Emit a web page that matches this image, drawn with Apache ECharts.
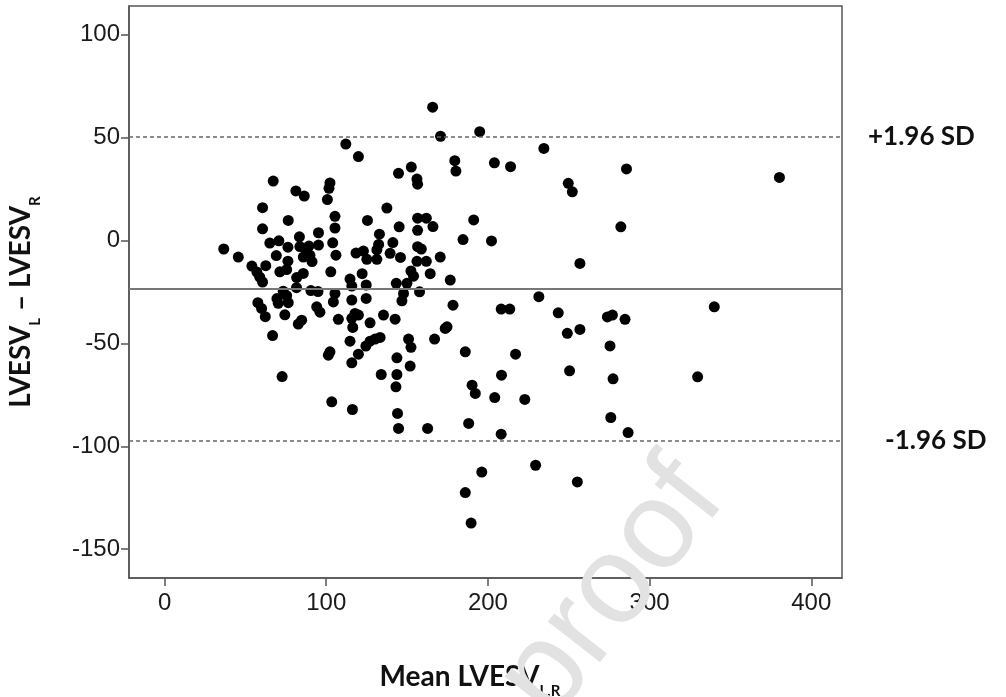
<!DOCTYPE html>
<html><head><meta charset="utf-8">
<script src="https://cdn.jsdelivr.net/npm/echarts@6/dist/echarts.min.js"></script>
<style>html,body{margin:0;padding:0;background:#fff}#c{width:1006px;height:697px}</style>
</head><body><div id="c"></div>
<script>
// Mean LVESV (x) and difference LVESV_L - LVESV_R (y)
const meanX = [
36.6,45.6,54.0,57.1,58.9,62.6,60.6,67.2,60.6,76.5,60.6,83.4,65.1,70.7,76.3,69.1,76.3,71.3,75.5,81.7,
85.8,81.6,73.4,75.5,69.5,70.3,76.5,57.7,60.0,62.3,74.4,82.7,84.8,66.8,72.7,81.2,86.4,95.2,83.7,89.3,
95.2,85.8,89.9,91.2,87.9,90.5,94.9,94.1,96.1,
100.7,102.3,101.7,105.4,105.4,104.0,106.0,102.8,112.1,119.9,125.5,137.5,144.7,152.6,156.1,156.5,156.5,161.9,166.0,145.1,
132.9,156.5,141.2,132.4,131.3,156.5,158.8,118.4,123.0,139.5,170.5,125.1,131.3,145.9,156.1,161.9,165.8,170.7,179.5,180.2,
184.6,114.7,115.8,122.2,124.7,143.3,152.4,154.0,149.9,164.3,176.7,105.4,104.4,115.8,124.7,147.8,146.8,157.7,178.4,107.5,
117.8,119.9,115.8,116.4,127.1,135.4,142.6,173.6,174.7,167.0,150.9,152.4,114.7,133.3,130.2,127.1,124.5,119.9,115.8,101.3,
102.3,143.7,151.9,134.0,143.7,143.1,186.0,103.4,116.2,144.1,144.7,162.7,188.1,
194.9,234.6,204.0,214.0,285.7,249.7,252.2,191.2,282.2,202.2,256.9,208.2,213.5,231.5,243.5,273.9,277.0,284.8,249.1,256.9,
275.5,217.1,208.4,250.5,277.4,190.2,192.2,204.2,222.8,276.0,208.2,286.7,229.5,196.2,255.3,186.0,189.6,380.3,340.0,329.7
];
const diffY = [
-4.1,-8.0,-12.4,-15.3,-17.8,-12.2,-20.2,28.9,16.0,9.8,5.7,1.8,-1.2,-0.1,-3.2,-7.3,-10.0,-15.2,-14.1,-18.0,
-16.0,-22.9,-24.6,-26.8,-28.2,-30.5,-30.2,-30.2,-33.0,-37.0,-36.1,-40.6,-38.7,-46.2,-66.1,24.1,21.6,3.8,-2.9,-2.7,
-2.2,-8.0,-7.1,-10.2,-5.1,-24.3,-24.8,-32.2,-34.8,
19.9,28.0,25.4,11.8,6.1,-1.1,-7.1,-15.2,46.9,40.8,9.8,15.8,32.7,35.7,29.9,27.4,10.9,10.9,6.8,6.7,
3.1,5.0,-1.0,-1.9,-4.5,-3.0,-4.1,-6.1,-5.1,-6.2,-8.0,-9.1,-9.1,-8.2,-10.1,-10.1,64.8,50.7,38.8,33.8,
0.5,-18.7,-22.1,-16.1,-21.6,-20.8,-14.8,-17.3,-20.8,-16.1,-19.2,-25.7,-29.8,-28.9,-28.1,-25.7,-29.3,-24.9,-31.4,-38.3,
-35.4,-36.2,-37.8,-42.2,-40.0,-36.2,-38.2,-42.7,-41.9,-47.9,-47.9,-51.9,-48.9,-47.1,-47.9,-48.9,-51.3,-55.2,-59.4,-55.7,
-54.1,-57.0,-61.0,-65.1,-65.1,-71.1,-54.1,-78.4,-82.1,-84.0,-91.3,-91.3,-88.9,
52.9,44.8,37.8,35.9,34.8,27.8,23.7,10.0,6.7,-0.2,-11.1,-33.3,-33.3,-27.3,-35.1,-37.1,-36.2,-38.3,-45.1,-43.2,
-51.2,-55.2,-65.4,-63.3,-67.2,-70.3,-74.3,-76.3,-77.2,-86.0,-94.1,-93.3,-109.2,-112.5,-117.3,-122.5,-137.3,30.7,-32.2,-66.2
];
const xTicks = [0, 100, 200, 300, 400];
const yTicks = [-150, -100, -50, 0, 50, 100];
const meanDiff = -23.5;
const upperLoA = 50.3;
const lowerLoA = -97.4;
const upperLabel = '+1.96 SD';
const lowerLabel = '-1.96 SD';

const points = meanX.map((x, i) => [x, diffY[i]]);
const axisColor = '#555';
const labelFont = 'Lato, "Open Sans", sans-serif';

const chart = echarts.init(document.getElementById('c'), null, {renderer: 'canvas'});
chart.setOption({
  animation: false,
  backgroundColor: '#fff',
  grid: {left: 129, right: 164, top: 6, bottom: 119, show: true, borderColor: axisColor, borderWidth: 1.5},
  xAxis: {
    type: 'value', min: -22, max: 419,
    axisLine: {show: true, onZero: false, lineStyle: {color: axisColor, width: 1.5}},
    axisTick: {show: true, customValues: xTicks, length: 8, lineStyle: {color: axisColor, width: 1.5}},
    axisLabel: {customValues: xTicks, fontSize: 24, color: '#1a1a1a', fontFamily: '"Liberation Sans", Arial', margin: 13},
    splitLine: {show: false}
  },
  yAxis: {
    type: 'value', min: -164, max: 114,
    axisLine: {show: true, onZero: false, lineStyle: {color: axisColor, width: 1.5}},
    axisTick: {show: true, customValues: yTicks, length: 8, lineStyle: {color: axisColor, width: 1.5}},
    axisLabel: {customValues: yTicks, fontSize: 24, color: '#1a1a1a', fontFamily: '"Liberation Sans", Arial', margin: 9},
    splitLine: {show: false}
  },
  series: [{
    type: 'scatter',
    data: points,
    symbol: 'circle',
    symbolSize: 11,
    itemStyle: {color: '#000', opacity: 1},
    markLine: {
      silent: true,
      symbol: ['none', 'none'],
      animation: false,
      data: [
        {yAxis: meanDiff, lineStyle: {type: 'solid', color: '#777', width: 2}, label: {show: false}},
        {yAxis: upperLoA, lineStyle: {type: [4, 3], color: '#666', width: 1.5},
          label: {show: true, position: 'end', distance: 26, formatter: upperLabel, fontSize: 26, fontWeight: 'bold', fontFamily: labelFont, color: '#111'}},
        {yAxis: lowerLoA, lineStyle: {type: [4, 3], color: '#666', width: 1.5},
          label: {show: true, position: 'end', distance: 43, formatter: lowerLabel, fontSize: 26, fontWeight: 'bold', fontFamily: labelFont, color: '#111'}}
      ]
    }
  }],
  graphic: [
    {
      type: 'text', x: 25, y: 302, rotation: Math.PI / 2,
      style: {
        text: '{m|LVESV}{s|L}{m| – LVESV}{s|R}',
        align: 'center', verticalAlign: 'middle', textAlign: 'center', textVerticalAlign: 'middle',
        rich: {
          m: {fontSize: 28, fontWeight: 'bold', fontFamily: labelFont, fill: '#111', color: '#111', lineHeight: 36, verticalAlign: 'top'},
          s: {fontSize: 15, fontWeight: 'bold', fontFamily: labelFont, fill: '#111', color: '#111', lineHeight: 15, verticalAlign: 'bottom'}
        }
      }
    },
    {
      type: 'text', x: 470, y: 681,
      style: {
        text: '{m|Mean LVESV}{s|L,R}',
        align: 'center', verticalAlign: 'middle', textAlign: 'center', textVerticalAlign: 'middle',
        rich: {
          m: {fontSize: 28, fontWeight: 'bold', fontFamily: labelFont, fill: '#111', color: '#111', lineHeight: 36, verticalAlign: 'top'},
          s: {fontSize: 15, fontWeight: 'bold', fontFamily: labelFont, fill: '#111', color: '#111', lineHeight: 15, verticalAlign: 'bottom'}
        }
      }
    },
    {
      type: 'text', x: 700, y: 478, rotation: 0.908, z: 100,
      style: {
        text: 'Journal Pre-proof', fontSize: 125, fontFamily: '"Liberation Sans", Arial',
        fill: '#e2e2e2',
        align: 'right', verticalAlign: 'middle', textAlign: 'right', textVerticalAlign: 'middle'
      }
    }
  ]
});
</script>
</body></html>
